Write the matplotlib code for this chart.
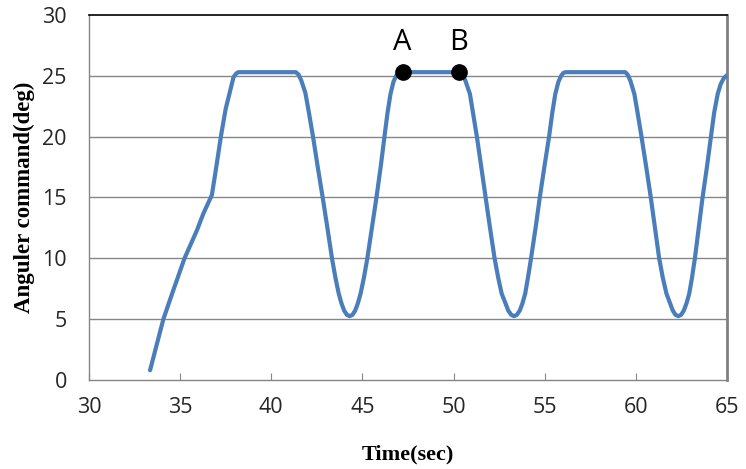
import matplotlib
matplotlib.use("Agg")
import matplotlib.pyplot as plt

# values
time = [33.35, 34.08, 34.63, 35.24, 35.92, 36.28, 36.74,
        36.92, 37.24, 37.5, 37.71, 37.93, 38.08, 38.2, 41.35,
        # first valley
        41.5, 41.65, 41.87, 42.05, 42.29, 42.55, 42.82, 43.08, 43.33, 43.52, 43.70,
        43.85, 44.0, 44.15, 44.3, 44.45, 44.6, 44.75, 44.9, 45.08, 45.27, 45.52,
        45.77, 46.0, 46.21, 46.38, 46.54, 46.7, 46.85, 47.0, 47.2, 50.35,
        # second valley
        50.5, 50.65, 50.9, 51.05, 51.28, 51.52, 51.76, 52.0, 52.25, 52.45, 52.64,
        52.85, 53.0, 53.17, 53.32, 53.47, 53.63, 53.78, 53.93, 54.08, 54.25, 54.5,
        54.73, 54.98, 55.24, 55.42, 55.58, 55.75, 55.9, 56.03, 56.15, 59.42,
        # third valley
        59.55, 59.7, 59.92, 60.08, 60.31, 60.57, 60.82, 61.05, 61.28, 61.48, 61.68,
        61.88, 62.03, 62.18, 62.33, 62.48, 62.63, 62.78, 62.93, 63.08, 63.24, 63.45,
        63.66, 63.9, 64.12, 64.3, 64.49, 64.65, 64.82, 65.0]
angle = [0.8, 5.0, 7.4, 10.0, 12.3, 13.7, 15.2,
         16.9, 20.05, 22.3, 23.56, 24.9, 25.2, 25.3, 25.3,
         25.1, 24.6, 23.6, 22.1, 20.0, 17.5, 15.0, 12.5, 10.0, 8.4, 7.1,
         6.3, 5.7, 5.35, 5.25, 5.35, 5.7, 6.3, 7.1, 8.4, 10.0, 12.5,
         15.0, 17.5, 20.0, 22.0, 23.5, 24.5, 25.0, 25.25, 25.3, 25.3,
         25.1, 24.6, 23.5, 22.1, 20.0, 17.5, 15.0, 12.5, 10.0, 8.4, 7.1,
         6.3, 5.7, 5.35, 5.25, 5.35, 5.7, 6.3, 7.1, 8.4, 10.0, 12.5,
         15.0, 17.5, 20.0, 22.0, 23.5, 24.5, 25.0, 25.25, 25.3, 25.3,
         25.1, 24.6, 23.5, 22.1, 20.0, 17.5, 15.0, 12.5, 10.0, 8.4, 7.1,
         6.3, 5.7, 5.35, 5.25, 5.35, 5.7, 6.3, 7.1, 8.4, 10.0, 12.5,
         15.0, 17.5, 20.0, 22.0, 23.5, 24.3, 24.8, 25.05]

point_names = ["A", "B"]
point_t = [47.2, 50.3]
point_v = [25.35, 25.3]

xticks = [30, 35, 40, 45, 50, 55, 60, 65]
yticks = [0, 5, 10, 15, 20, 25, 30]

fig = plt.figure(figsize=(7.46, 4.69), dpi=100)
ax = fig.add_axes([0.1193, 0.1898, 0.8552, 0.7782])

for y in yticks[1:-1]:
    ax.axhline(y, color="#868686", lw=1.0, zorder=1)

ax.plot(time, angle, color="#4A7EBB", lw=3.0, solid_joinstyle="round",
        solid_capstyle="round", zorder=3)

ax.plot(point_t, point_v, "o", color="black", markersize=11, zorder=4)
for name, t, v in zip(point_names, point_t, point_v):
    ax.text(t, v + 2.4, name, ha="center", va="center", fontsize=21,
            family="Open Sans", zorder=5)

ax.set_xlim(30, 65)
ax.set_ylim(0, 30)
ax.set_xticks(xticks)
ax.set_yticks(yticks)

ax.spines["top"].set_color("black")
ax.spines["top"].set_linewidth(1.2)
ax.spines["left"].set_color("#868686")
ax.spines["bottom"].set_color("#868686")
ax.spines["right"].set_color("#808080")
ax.spines["right"].set_linewidth(2.0)
ax.spines["left"].set_linewidth(1.0)
ax.spines["bottom"].set_linewidth(1.0)

ax.tick_params(axis="x", direction="in", length=5, color="#868686",
               labelsize=15.5, pad=12)
ax.tick_params(axis="y", length=0, labelsize=15.5, pad=16)
for lab in ax.get_xticklabels() + ax.get_yticklabels():
    lab.set_family("Open Sans")
    lab.set_color("#262626")

ax.set_xlabel("Time(sec)", family="Liberation Serif", fontweight="bold",
              fontsize=16, labelpad=19)
ax.set_ylabel("Anguler command(deg)", family="Liberation Serif",
              fontweight="bold", fontsize=16.5, labelpad=5)

fig.savefig("out.png", dpi=100)
